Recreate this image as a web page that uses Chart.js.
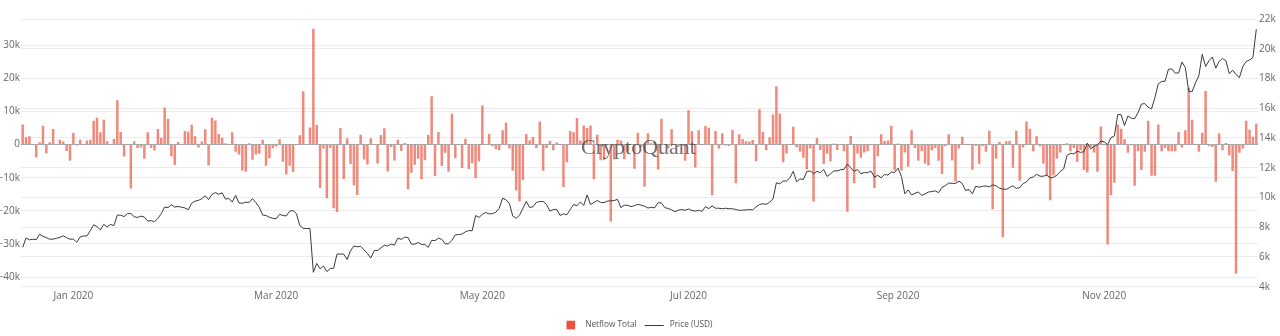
<!DOCTYPE html>
<html>
<head>
<meta charset="utf-8">
<script src="https://cdn.jsdelivr.net/npm/chart.js@4.4.1/dist/chart.umd.min.js"></script>
<style>
  html, body { margin: 0; padding: 0; background: #ffffff; }
  #wrap { width: 1280px; height: 336px; }
</style>
</head>
<body>
<div id="wrap"><canvas id="chart" width="1280" height="336"></canvas></div>
<script>
// Daily exchange netflow (BTC) and BTC price (USD), 2019-12-17 .. 2020-12-16
const firstDay = { year: 2019, month: 11, day: 17 };

const netflow = [
  // Dec 2019
  6100, 2200, 2500, 100, -3900, 700, 5700, -2600, 700, 4700, 200, 1500, 900, -1900, -4900,
  // Jan 2020
  3500, -300, 1500, 100, 1200, 1500, 7200, 8100, 3700, 7500, 1000, -100, 1700, 13400, 3800, -3600,
  100, -13300, 1000, -1000, -900, -4300, 3700, -1000, -1800, 4700, 2100, 11200, 7800, -3500, -6200,
  // Feb 2020
  800, 100, 4100, 3900, 6000, 2500, -900, 900, 4600, -6300, 8100, 7300, 3200, 2100, 400,
  100, 3700, -2200, -3000, -7900, -8200, 400, -4600, -3000, -2800, 1500, -6400, -4100, -1100,
  // Mar 2020
  -600, 1600, -5200, -9000, -6400, -8300, 100, 2800, 16100, 200, 5200, 35000, 6000, -13100, -1200, -16200,
  -1000, -19200, -20400, 5000, -10400, 1900, -5900, -12300, -15200, 3000, -4500, -6000, 1900, 200, -5700,
  // Apr 2020
  2900, 4900, -8100, -700, -4800, 1500, -1900, 500, -13500, -8500, -6100, -4300, -10500, -4700, 2900,
  14600, -9500, 3800, -6500, -2500, -8200, 9300, -4100, 100, -7100, 1800, -7400, -5600, -10200, -5000,
  // May 2020
  11800, 200, 3200, -500, -1300, -1600, 4300, 6600, -1200, -7900, -13900, -17200, -10700, 3200, 1300, 2300,
  -1100, 7000, -7900, -1000, 1100, -1700, 600, 100, -12800, -5300, 4100, 3700, 8000, 1200, 5800,
  // Jun 2020
  5000, 5800, -10500, 3000, -4700, -4700, 100, -23200, -4400, 1500, 1200, -4400, -2200, 100, -7300,
  3600, -700, -12700, 3400, 400, 800, -7500, 7800, 100, -1200, 4600, 200, -700, 200, -4900,
  // Jul 2020
  10400, 4100, -6900, 4300, 100, 5600, 5100, -15300, 4100, -1200, 3400, -300, -400, 4500, -11700, 3100,
  1700, 1000, 900, 1400, -5000, 10700, 3900, -1700, 2200, 9100, 17600, 9400, -5300, -2700, 100,
  // Aug 2020
  5400, -800, -2200, -4000, -7500, -1200, -17200, 2000, -1600, -5900, -2800, -5000, 300, -1600, 100, -2000,
  -20300, 2600, -11700, -2700, -4000, -2400, -2000, 200, -13100, -3500, 3100, 1100, 1200, 5700, -7800,
  // Sep 2020
  300, -7800, -2400, -6700, 4300, -1000, -4900, -1900, -5700, -6300, -1700, -1000, -4900, -8900, -500,
  3100, -4800, -11200, -1200, 2400, 100, 100, -7600, -400, -5800, -500, -2200, 4200, -19500, -4300,
  // Oct 2020
  800, -28000, 1000, 1100, -7000, 4200, -10900, -900, 7000, 4800, -2000, 2500, -600, -5800, -9300, -16800,
  -9300, -4200, -2400, 100, 400, -2000, -1000, -5200, -1700, -7700, -8400, -700, -2400, -8200, 5500,
  // Nov 2020
  -200, -30200, -15300, -11500, 6100, 4800, 1600, -2500, 100, -12400, -2000, -7700, -2200, 7200, -9400,
  -9400, 6100, -2000, -1000, -2000, -2000, -2000, 3800, -900, 4300, 17200, 7500, 100, -2200, 3600,
  // Dec 2020
  16200, -500, -700, -11200, 3400, -1700, 500, -3200, -8000, -39000, -2500, -1200, 7200, 4500, 2400, 6300
];

const price = [
  // Dec 2019
  6640, 7277, 7151, 7188, 7161, 7523, 7390, 7294, 7193, 7201, 7254, 7317, 7422, 7293, 7193,
  // Jan 2020
  7200, 6985, 7345, 7411, 7411, 7769, 8164, 8038, 7817, 8197, 8020, 8185, 8111, 8813, 8809, 8714,
  8915, 8917, 8707, 8658, 8745, 8681, 8407, 8445, 8368, 8597, 8910, 9358, 9316, 9508, 9351,
  // Feb 2020
  9393, 9345, 9294, 9181, 9614, 9756, 9804, 9917, 10116, 9857, 10208, 10326, 10215, 10313, 9889,
  9934, 9690, 10142, 9634, 9608, 9686, 9663, 9925, 9651, 9341, 8820, 8784, 8672, 8599,
  // Mar 2020
  8563, 8869, 8787, 8756, 9078, 9122, 8909, 8108, 7923, 7910, 7911, 4971, 5563, 5201, 5392, 5015,
  5225, 5238, 6191, 6198, 6186, 5831, 6416, 6734, 6681, 6716, 6470, 6243, 5922, 6429, 6438,
  // Apr 2020
  6607, 6793, 6733, 6868, 6791, 7271, 7176, 7335, 7302, 6865, 6859, 6971, 6845, 6843, 6642,
  7116, 7096, 7257, 7189, 6882, 6880, 7118, 7483, 7506, 7539, 7694, 7774, 7759, 8786, 8658,
  // May 2020
  8864, 8989, 8897, 8912, 9003, 9268, 9952, 9842, 9593, 8756, 8601, 8805, 9269, 9733, 9328, 9377,
  9670, 9726, 9729, 9523, 9081, 9182, 9209, 8790, 8906, 8835, 9181, 9525, 9439, 9700, 9461,
  // Jun 2020
  10167, 9529, 9656, 9800, 9665, 9653, 9758, 9771, 9794, 9870, 9321, 9480, 9475, 9386, 9450,
  9538, 9480, 9411, 9289, 9333, 9303, 9648, 9629, 9313, 9264, 9162, 9046, 9143, 9190, 9137,
  // Jul 2020
  9228, 9123, 9087, 9132, 9073, 9375, 9252, 9428, 9277, 9278, 9240, 9276, 9243, 9243, 9192, 9132,
  9151, 9159, 9185, 9164, 9374, 9525, 9581, 9536, 9677, 9905, 10990, 10912, 11100, 11111, 11323,
  // Aug 2020
  11759, 11053, 11246, 11205, 11747, 11779, 11601, 11754, 11675, 11878, 11410, 11584, 11784, 11786, 11866, 11892,
  12254, 11991, 11758, 11878, 11592, 11681, 11665, 11774, 11366, 11488, 11324, 11542, 11507, 11712, 11680,
  // Sep 2020
  11970, 11415, 10245, 10511, 10169, 10280, 10370, 10131, 10242, 10364, 10400, 10442, 10323, 10680, 10796,
  10974, 10949, 10944, 11095, 10938, 10462, 10538, 10247, 10760, 10692, 10750, 10775, 10709, 10845, 10785,
  // Oct 2020
  10620, 10570, 10542, 10667, 10786, 10600, 10668, 10925, 11051, 11301, 11377, 11556, 11426, 11430, 11505, 11320,
  11361, 11496, 11743, 11917, 12823, 12965, 12931, 13109, 13031, 13075, 13654, 13272, 13437, 13546, 13781,
  // Nov 2020
  13737, 13550, 14023, 14134, 15579, 15565, 14833, 15479, 15332, 15291, 15701, 16277, 16317, 16069, 15955,
  16716, 17645, 17804, 17817, 18621, 18642, 18370, 18364, 19107, 18733, 17150, 17109, 17717, 18177, 19625,
  // Dec 2020
  18803, 19201, 19446, 18699, 19154, 19346, 19191, 18321, 18553, 18264, 18058, 18803, 19142, 19246, 19417, 21310
];

const tickLabels = ['Jan 2020', 'Mar 2020', 'May 2020', 'Jul 2020', 'Sep 2020', 'Nov 2020'];
const netflowTicks = [-40000, -30000, -20000, -10000, 0, 10000, 20000, 30000];
const priceTicks = [4000, 6000, 8000, 10000, 12000, 14000, 16000, 18000, 20000, 22000];
const monthNames = ['Jan', 'Feb', 'Mar', 'Apr', 'May', 'Jun', 'Jul', 'Aug', 'Sep', 'Oct', 'Nov', 'Dec'];

const netflowColor = 'rgb(232, 82, 62)';
const netflowFill = 'rgba(232, 82, 62, 0.68)';
const priceColor = '#3a3a3a';
const gridColor = '#ececec';
const textColor = '#666666';
const fontFamily = '"Open Sans", Verdana, sans-serif';

// one category per day
const days = netflow.map((_, i) => new Date(Date.UTC(firstDay.year, firstDay.month, firstDay.day + i)));
const pad2 = n => String(n).padStart(2, '0');
const labels = days.map(d => `${d.getUTCFullYear()}-${pad2(d.getUTCMonth() + 1)}-${pad2(d.getUTCDate())}`);

function monthTick(index) {
  const d = days[index];
  if (!d || d.getUTCDate() !== 1) return null;
  const text = `${monthNames[d.getUTCMonth()]} ${d.getUTCFullYear()}`;
  return tickLabels.includes(text) ? text : null;
}

function kLabel(v) {
  if (v === 0) return '0';
  return (v < 0 ? '\u2212' : '') + Math.abs(v) / 1000 + 'k';
}

// faint brand mark in the middle of the plot
const watermark = {
  id: 'watermark',
  afterDatasetsDraw(chart) {
    const { ctx, chartArea } = chart;
    ctx.save();
    ctx.font = '22px "Liberation Serif", "DejaVu Serif", serif';
    ctx.fillStyle = 'rgba(70, 70, 70, 0.78)';
    ctx.textAlign = 'center';
    ctx.textBaseline = 'alphabetic';
    ctx.fillText('CryptoQuant', (chartArea.left + chartArea.right) / 2 - 1, (chartArea.top + chartArea.bottom) / 2 + 1.5);
    ctx.restore();
  }
};

// legend row under the x axis: square for bars, short stroke for the line
const bottomLegend = {
  id: 'bottomLegend',
  afterDraw(chart) {
    const { ctx, chartArea } = chart;
    const sets = chart.data.datasets;
    const bars = sets.find(s => s.type === 'bar');
    const line = sets.find(s => s.type === 'line');
    ctx.save();
    ctx.font = `8.3px ${fontFamily}`;
    ctx.textBaseline = 'middle';
    const box = 8.6, gapBox = 10, gapItems = 8, lineLen = 19, gapLine = 6;
    const w1 = ctx.measureText(bars.label).width;
    const w2 = ctx.measureText(line.label).width;
    const total = box + gapBox + w1 + gapItems + lineLen + gapLine + w2;
    let x = (chartArea.left + chartArea.right) / 2 - total / 2;
    const y = chart.height - 11;
    ctx.fillStyle = netflowColor;
    ctx.fillRect(x, y - box / 2, box, box);
    x += box + gapBox;
    ctx.fillStyle = '#555555';
    ctx.fillText(bars.label, x, y);
    x += w1 + gapItems;
    ctx.strokeStyle = line.borderColor;
    ctx.lineWidth = 1;
    ctx.beginPath();
    ctx.moveTo(x, y + 0.5);
    ctx.lineTo(x + lineLen, y + 0.5);
    ctx.stroke();
    x += lineLen + gapLine;
    ctx.fillText(line.label, x, y);
    ctx.restore();
  }
};

const tickFont = { family: fontFamily, size: 10 };

new Chart(document.getElementById('chart'), {
  type: 'bar',
  data: {
    labels,
    datasets: [
      {
        type: 'line',
        label: 'Price (USD)',
        data: price,
        yAxisID: 'y1',
        borderColor: priceColor,
        borderWidth: 1,
        pointRadius: 0,
        tension: 0,
        order: 0
      },
      {
        type: 'bar',
        label: 'Netflow Total',
        data: netflow,
        yAxisID: 'y',
        backgroundColor: netflowFill,
        borderWidth: 0,
        barPercentage: 0.74,
        categoryPercentage: 1.0,
        order: 1
      }
    ]
  },
  options: {
    responsive: false,
    animation: false,
    events: [],
    layout: { padding: { top: 19, left: 0, right: 0, bottom: 22 } },
    plugins: { legend: { display: false }, tooltip: { enabled: false } },
    scales: {
      x: {
        offset: true,
        grid: { display: false, drawTicks: false },
        border: { display: false },
        ticks: {
          autoSkip: false,
          maxRotation: 0,
          minRotation: 0,
          padding: 3,
          color: textColor,
          font: tickFont,
          callback: (value, index) => monthTick(index)
        },
        afterFit: s => { s.height = 27.3; }
      },
      y: {
        position: 'left',
        min: -42930,
        max: 37940,
        grid: {
          color: c => (c.tick && c.tick.value === 0 ? '#a8a8a8' : gridColor),
          drawTicks: false
        },
        border: { display: false },
        ticks: { padding: 1, color: textColor, font: tickFont, callback: kLabel },
        afterBuildTicks: s => { s.ticks = netflowTicks.map(v => ({ value: v })); },
        afterFit: s => { s.width = 21; }
      },
      y1: {
        position: 'right',
        min: 4000,
        max: 22000,
        grid: { color: gridColor, drawTicks: false },
        border: { display: false },
        ticks: { padding: 1, color: textColor, font: tickFont, callback: kLabel },
        afterBuildTicks: s => { s.ticks = priceTicks.map(v => ({ value: v })); },
        afterFit: s => { s.width = 22; }
      }
    }
  },
  plugins: [watermark, bottomLegend]
});
</script>
</body>
</html>
